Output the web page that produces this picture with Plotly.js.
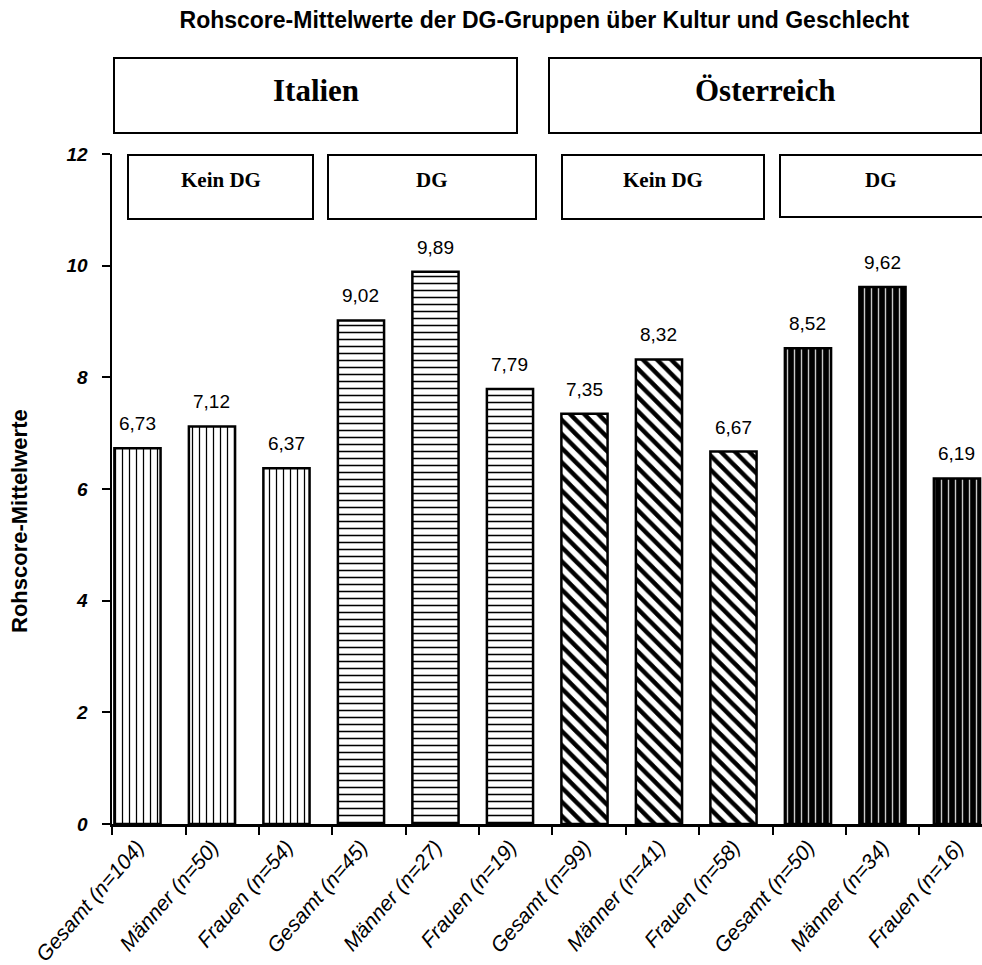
<!DOCTYPE html>
<html>
<head>
<meta charset="utf-8">
<script src="https://cdn.plot.ly/plotly-3.0.1.min.js"></script>
<style>html,body{margin:0;padding:0;background:#fff}#chart{width:982px;height:965px}</style>
</head>
<body>
<div id="chart"></div>
<script>
// ---- data ----
const categories = ["Gesamt (n=104)","Männer (n=50)","Frauen (n=54)",
                    "Gesamt (n=45)","Männer (n=27)","Frauen (n=19)",
                    "Gesamt (n=99)","Männer (n=41)","Frauen (n=58)",
                    "Gesamt (n=50)","Männer (n=34)","Frauen (n=16)"];
const italienKeinDG = [6.73, 7.12, 6.37];
const italienDG = [9.02, 9.89, 7.79];
const oesterreichKeinDG = [7.35, 8.32, 6.67];
const oesterreichDG = [8.52, 9.62, 6.19];
const groupLabels = ["Italien", "Österreich"];
const subgroupLabels = ["Kein DG", "DG", "Kein DG", "DG"];
const yTicks = [0, 2, 4, 6, 8, 10, 12];
const chartTitle = "Rohscore-Mittelwerte der DG-Gruppen über Kultur und Geschlecht";
const yTitle = "Rohscore-Mittelwerte";

const allValues = italienKeinDG.concat(italienDG, oesterreichKeinDG, oesterreichDG);
const series = [italienKeinDG, italienDG, oesterreichKeinDG, oesterreichDG];

const patterns = [
  {shape: "|", bgcolor: "#ffffff", fgcolor: "#000000", size: 7, solidity: 0.18},
  {shape: "-", bgcolor: "#ffffff", fgcolor: "#000000", size: 7, solidity: 0.22},
  {shape: "\\", bgcolor: "#ffffff", fgcolor: "#000000", size: 10, solidity: 0.45},
  {shape: "|", bgcolor: "#000000", fgcolor: "#c8c8c8", size: 7, solidity: 0.2}
];

const traces = series.map((vals, g) => ({
  type: "bar",
  x: vals.map((v, i) => g * 3 + i),
  y: vals,
  width: 0.62,
  marker: {color: "#ffffff", pattern: patterns[g], line: {color: "#000000", width: 2.5}},
  hoverinfo: "skip",
  showlegend: false
}));

const sans = "Liberation Sans, Arial, sans-serif";
const serif = "Liberation Serif, Times New Roman, serif";

const annotations = allValues.map((v, i) => ({
  x: i, y: v, xref: "x", yref: "y",
  text: v.toFixed(2).replace(".", ","),
  showarrow: false, yanchor: "bottom", yshift: 12,
  font: {family: sans, size: 19, color: "#000"}
}));

// plot area pixel helpers (plot: x 112..982, y 154..824)
const px = p => (p - 112) / 870;
const py = p => (824 - p) / 670;

const boxes = [
  {x0: 114, x1: 517, y0: 58, y1: 133, label: groupLabels[0], size: 31, ty: 91},
  {x0: 549, x1: 981, y0: 58, y1: 133, label: groupLabels[1], size: 31, ty: 91},
  {x0: 128, x1: 313, y0: 155, y1: 219, label: subgroupLabels[0], size: 21, ty: 180},
  {x0: 328, x1: 536, y0: 155, y1: 219, label: subgroupLabels[1], size: 21, ty: 180},
  {x0: 562, x1: 764, y0: 155, y1: 219, label: subgroupLabels[2], size: 21, ty: 180},
  {x0: 780, x1: 995, y0: 155, y1: 217, label: subgroupLabels[3], size: 21, ty: 180}
];
const shapes = boxes.map(b => ({
  type: "rect", xref: "paper", yref: "paper",
  x0: px(b.x0), x1: px(b.x1), y0: py(b.y1), y1: py(b.y0),
  line: {color: "#000", width: 2}, fillcolor: "#fff", layer: "above"
}));
boxes.forEach(b => annotations.push({
  xref: "paper", yref: "paper", x: px((b.x0 + Math.min(b.x1, 981)) / 2), y: py(b.ty),
  text: b.label, showarrow: false, xanchor: "center", yanchor: "middle",
  font: {family: serif, size: b.size, weight: "bold", color: "#000"}
}));
annotations.push({
  xref: "paper", yref: "paper", x: px(19), y: py(521), textangle: -90,
  text: yTitle, showarrow: false, xanchor: "center", yanchor: "middle",
  font: {family: sans, size: 22, weight: "bold", color: "#000"}
});

const layout = {
  width: 982, height: 965,
  margin: {l: 112, r: 0, t: 154, b: 141},
  paper_bgcolor: "#fff", plot_bgcolor: "#fff",
  barmode: "overlay",
  title: {text: chartTitle,
          font: {family: sans, size: 23, weight: "bold", color: "#000"},
          xref: "paper", x: 0.497, xanchor: "center", yref: "container", y: 0.979, yanchor: "middle"},
  xaxis: {
    type: "linear", range: [-0.342, 11.336],
    tickmode: "array", tickvals: categories.map((c, i) => i), ticktext: categories,
    ticks: "", tickangle: -49, ticklen: 8,
    tickfont: {family: sans, size: 21, style: "italic", color: "#000"},
    minor: {ticks: "outside", tick0: -0.34, dtick: 0.985, ticklen: 8, tickwidth: 2, tickcolor: "#000", showgrid: false},
    showline: true, linecolor: "#000", linewidth: 2.5, showgrid: false, zeroline: false,
    fixedrange: true
  },
  yaxis: {
    range: [0, 12], tickmode: "array", tickvals: yTicks,
    ticks: "outside", ticklen: 8, tickwidth: 2, tickcolor: "#000",
    ticklabelstandoff: 10,
    tickfont: {family: sans, size: 19, weight: "bold", style: "italic", color: "#000"},
    showline: true, linecolor: "#000", linewidth: 2.5, showgrid: false, zeroline: false,
    fixedrange: true
  },
  shapes: shapes,
  annotations: annotations
};

Plotly.newPlot("chart", traces, layout, {displayModeBar: false, staticPlot: true});
</script>
</body>
</html>
